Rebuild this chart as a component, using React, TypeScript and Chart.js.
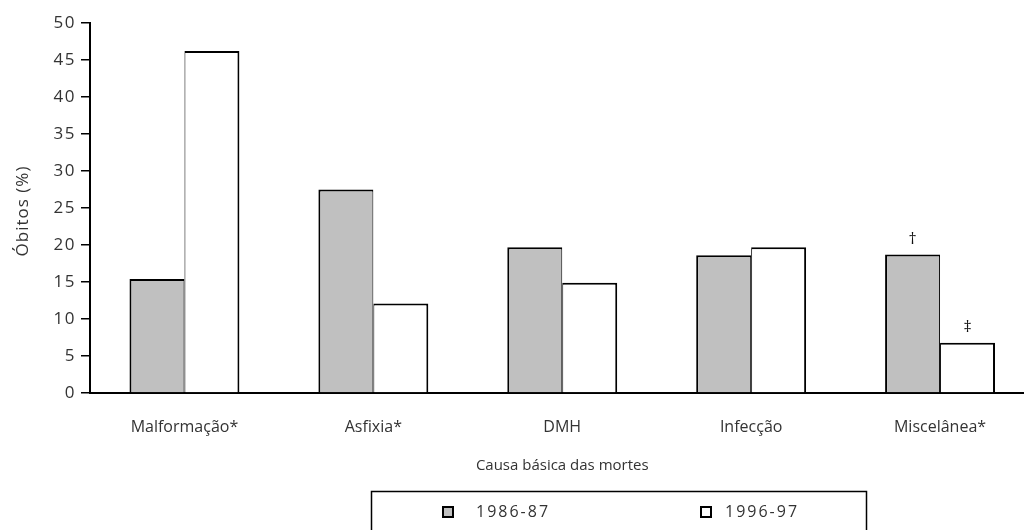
import React, { useEffect, useRef } from 'react';
import { Chart, registerables } from 'chart.js';

Chart.register(...registerables);

const categories = ['Malformação*', 'Asfixia*', 'DMH', 'Infecção', 'Miscelânea*'];
const seriesLabels = ['1986-87', '1996-97'];
const values1986 = [15.4, 27.5, 19.7, 18.6, 18.7];
const values1996 = [46.2, 12.1, 14.9, 19.7, 6.8];
const markers1986 = ['', '', '', '', '†'];
const markers1996 = ['', '', '', '', '‡'];
const yTicksMin = 0;
const yTicksMax = 50;
const yTicksStep = 5;
const yTitle = 'Óbitos (%)';
const xTitle = 'Causa básica das mortes';

const FONT = '"Open Sans", "DejaVu Sans", sans-serif';
const TEXT = '#333333';

const spacingPlugin = {
  id: 'yTickSpacing',
  afterLayout(chart: any) {
    const y = chart.scales.y;
    if (y && !y.__spaced) {
      const orig = y.drawLabels.bind(y);
      y.drawLabels = (area: any) => {
        const ctx = chart.ctx;
        ctx.save();
        ctx.letterSpacing = '1.5px';
        orig(area);
        ctx.restore();
      };
      y.__spaced = true;
    }
  },
};

const titlesPlugin = {
  id: 'axisTitles',
  afterDraw(chart: any) {
    const ctx = chart.ctx;
    const area = chart.chartArea;
    ctx.save();
    ctx.fillStyle = TEXT;
    ctx.textAlign = 'center';
    ctx.textBaseline = 'middle';
    ctx.font = `15px ${FONT}`;
    ctx.fillText(xTitle, (area.left + area.right) / 2, 466);
    ctx.translate(23, (area.top + area.bottom) / 2 + 3);
    ctx.rotate(-Math.PI / 2);
    ctx.letterSpacing = '1px';
    ctx.font = `17px ${FONT}`;
    ctx.fillText(yTitle, 0, 0);
    ctx.restore();
  },
};

const markerPlugin = {
  id: 'barMarkers',
  afterDatasetsDraw(chart: any) {
    const ctx = chart.ctx;
    const lists = [markers1986, markers1996];
    ctx.save();
    ctx.fillStyle = '#111';
    ctx.font = `16px ${FONT}`;
    ctx.textAlign = 'center';
    ctx.textBaseline = 'alphabetic';
    chart.data.datasets.forEach((_ds: any, di: number) => {
      const meta = chart.getDatasetMeta(di);
      meta.data.forEach((el: any, i: number) => {
        const m = lists[di][i];
        if (m) ctx.fillText(m, el.x, el.y - 11);
      });
    });
    ctx.restore();
  },
};

const legendPlugin = {
  id: 'boxLegend',
  afterDraw(chart: any) {
    const ctx = chart.ctx;
    ctx.save();
    ctx.strokeStyle = '#000';
    ctx.lineWidth = 1.5;
    ctx.strokeRect(371.5, 491.5, 495, 60);
    const items = [
      { x: 443, tx: 476 },
      { x: 701, tx: 725 },
    ];
    chart.data.datasets.forEach((ds: any, i: number) => {
      const it = items[i];
      ctx.fillStyle = ds.backgroundColor;
      ctx.fillRect(it.x, 507, 10, 10);
      ctx.strokeStyle = '#000';
      ctx.lineWidth = 2;
      ctx.strokeRect(it.x, 507, 10, 10);
      ctx.fillStyle = TEXT;
      ctx.font = `16px ${FONT}`;
      ctx.letterSpacing = '2px';
      ctx.textAlign = 'left';
      ctx.textBaseline = 'middle';
      ctx.fillText(ds.label, it.tx, 512);
    });
    ctx.restore();
  },
};

export default function App() {
  const ref = useRef<HTMLCanvasElement | null>(null);

  useEffect(() => {
    if (!ref.current) return;
    const chart = new Chart(ref.current, {
      type: 'bar',
      data: {
        labels: categories,
        datasets: [
          {
            label: seriesLabels[0],
            data: values1986,
            backgroundColor: '#c0c0c0',
            borderColor: '#000',
            borderWidth: { left: 2, top: 2, right: 1, bottom: 0 },
            borderSkipped: false,
            barPercentage: 1,
            categoryPercentage: 0.582,
          },
          {
            label: seriesLabels[1],
            data: values1996,
            backgroundColor: '#ffffff',
            borderColor: '#000',
            borderWidth: { left: 1, top: 2, right: 2, bottom: 0 },
            borderSkipped: false,
            barPercentage: 1,
            categoryPercentage: 0.582,
          },
        ],
      },
      options: {
        responsive: false,
        animation: false,
        devicePixelRatio: 1,
        layout: { padding: { left: 0, top: 23, right: 5.5, bottom: 52 } },
        plugins: {
          legend: { display: false },
          tooltip: { enabled: false },
        },
        scales: {
          x: {
            grid: { display: false },
            border: { display: true, color: '#000', width: 2 },
            ticks: {
              color: TEXT,
              font: { family: FONT, size: 16 },
              padding: 17,
              maxRotation: 0,
              autoSkip: false,
            },
            title: { display: false },
            afterFit(scale: any) {
              scale.height = 85;
            },
          },
          y: {
            min: yTicksMin,
            max: yTicksMax,
            grid: {
              drawOnChartArea: false,
              drawTicks: true,
              tickLength: 9,
              color: '#000',
              lineWidth: 1.5,
            },
            border: { display: true, color: '#000', width: 2 },
            ticks: {
              stepSize: yTicksStep,
              color: TEXT,
              font: { family: FONT, size: 17 },
              padding: 5,
            },
            title: { display: false },
            afterFit(scale: any) {
              scale.width = 90;
            },
          },
        },
      },
      plugins: [spacingPlugin, markerPlugin, titlesPlugin, legendPlugin],
    });
    return () => chart.destroy();
  }, []);

  return (
    <div
      style={{
        position: 'fixed',
        left: 0,
        top: 0,
        width: 1024,
        height: 530,
        overflow: 'hidden',
        background: '#fff',
      }}
    >
      <canvas ref={ref} width={1040} height={530} style={{ display: 'block' }} />
    </div>
  );
}
